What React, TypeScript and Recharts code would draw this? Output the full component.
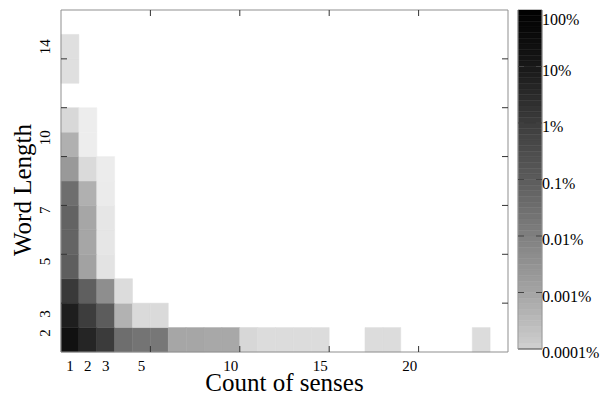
import React from 'react';
import { ComposedChart, XAxis, YAxis, ReferenceArea, Scatter } from 'recharts';

const FONT = '"Liberation Serif", "Times New Roman", serif';

// Word lengths (rows, bottom to top) and sense counts (columns 1..25)
const wordLengths = [2, 3, 4, 5, 6, 7, 8, 9, 10, 11, 12, 13, 14, 15];
const senseCountMax = 25;

// Share of words (%) per count of senses, index 0 = 1 sense; null = no words
const len2 = [19.5, 4.4, 1.1, 0.032, 0.022, 0.018, 0.0009, 0.0009, 0.0008, 0.0008, 0.00007, 0.000053, 0.000053, 0.000053, 0.000053, null, null, 0.000053, 0.000053, null, null, null, null, 0.000053];
const len3 = [6.8, 0.93, 0.1, 0.00048, 0.000059, 0.000059];
const len4 = [1.2, 0.083, 0.0041, 0.000053];
const len5 = [0.088, 0.00114, 0.000035];
const len6 = [0.06, 0.0009, 0.00003];
const len7 = [0.064, 0.0009, 0.00003];
const len8 = [0.032, 0.00053, 0.000023];
const len9 = [0.002, 0.000059, 0.000022];
const len10 = [0.00053, 0.00002];
const len11 = [0.000066, 0.00002];
const len12: (number | null)[] = [];
const len13 = [0.000043];
const len14 = [0.000043];
const len15: (number | null)[] = [];

const rowsByLength: (number | null)[][] = [len2, len3, len4, len5, len6, len7, len8, len9, len10, len11, len12, len13, len14, len15];

// Axis ticks
const xLabelPos = [0.5, 1.5, 2.5, 4.5, 9.5, 14.5, 19.5];
const xLabels = ['1', '2', '3', '5', '10', '15', '20'];
const xTickMarks = [5, 10, 15, 20];
const yLabelPos = [0.78, 1.56, 3.7, 5.8, 8.77, 12.5];
const yLabels = ['2', '3', '5', '7', '10', '14'];
const yTickMarks = [2, 4, 6, 8, 10, 12];

// Colorbar ticks
const cbTicks = [0.0001, 0.001, 0.01, 0.1, 1, 10, 100];
const cbLabels = ['0.0001%', '0.001%', '0.01%', '0.1%', '1%', '10%', '100%'];

// gray colormap: log10(percent) -> gray level
const grayStops: [number, number][] = [[-5, 250], [-4, 208], [-3, 164], [-2, 128], [-1, 92], [0, 60], [1, 24], [2, 0]];
function grayFor(p: number): string {
  const l = Math.log10(p);
  let g = grayStops[0][1];
  if (l >= grayStops[grayStops.length - 1][0]) g = 0;
  else if (l > grayStops[0][0]) {
    for (let i = 0; i < grayStops.length - 1; i++) {
      const [a, ga] = grayStops[i];
      const [b, gb] = grayStops[i + 1];
      if (l >= a && l <= b) { g = ga + (gb - ga) * (l - a) / (b - a); break; }
    }
  }
  const v = Math.max(0, Math.min(255, Math.round(g)));
  return `rgb(${v},${v},${v})`;
}

type CellT = { x1: number; x2: number; y1: number; y2: number; cx: number; cy: number; fill: string; key: string };
const cells: CellT[] = [];
rowsByLength.forEach((row, ri) => {
  const L = wordLengths[ri];
  row.forEach((v, ci) => {
    if (v == null) return;
    cells.push({ x1: ci, x2: ci + 1, y1: L - 2, y2: L - 1, cx: ci + 0.5, cy: L - 1.5, fill: grayFor(v), key: `${L}-${ci}` });
  });
});

const cbBands: { y1: number; y2: number; fill: string }[] = [];
for (let i = 0; i < 60; i++) {
  const a = -4 + i * 0.1;
  const b = a + 0.1;
  cbBands.push({ y1: Math.pow(10, a), y2: Math.pow(10, b), fill: grayFor(Math.pow(10, (a + b) / 2)) });
}
const cbData = [{ bx: 0.5, by: 1 }];

const TICK = '#333';
const FRAME = '#8f8f8f';

const BottomTick = (props: any) => {
  const { x, y, payload } = props;
  const i = xLabelPos.indexOf(payload.value);
  if (i >= 0) {
    return <text x={x} y={y + 19} textAnchor="middle" fontSize={15} fontFamily={FONT} fill="#000">{xLabels[i]}</text>;
  }
  return <line x1={x} x2={x} y1={y} y2={y - 6} stroke={TICK} strokeWidth={1} />;
};
const TopTick = (props: any) => {
  const { x, y } = props;
  return <line x1={x} x2={x} y1={y} y2={y + 6} stroke={TICK} strokeWidth={1} />;
};
const LeftTick = (props: any) => {
  const { x, y, payload } = props;
  const i = yLabelPos.indexOf(payload.value);
  if (i >= 0) {
    return (
      <text x={x - 11} y={y} transform={`rotate(-90, ${x - 11}, ${y})`} textAnchor="middle" fontSize={15} fontFamily={FONT} fill="#000">{yLabels[i]}</text>
    );
  }
  return <line x1={x} x2={x + 6} y1={y} y2={y} stroke={TICK} strokeWidth={1} />;
};
const RightTick = (props: any) => {
  const { x, y } = props;
  return <line x1={x} x2={x - 6} y1={y} y2={y} stroke={TICK} strokeWidth={1} />;
};
const CbTick = (props: any) => {
  const { x, y, payload } = props;
  const i = cbTicks.indexOf(payload.value);
  const isEnd = i === 0 || i === cbTicks.length - 1;
  const dy = i === cbTicks.length - 1 ? 15 : 9;
  return (
    <g>
      {!isEnd && <line x1={x - 24} x2={x - 18} y1={y} y2={y} stroke="#444" strokeWidth={1} />}
      {!isEnd && <line x1={x - 6} x2={x} y1={y} y2={y} stroke="#444" strokeWidth={1} />}
      <text x={x} y={y + dy} textAnchor="start" fontSize={16} fontFamily={FONT} fill="#000">{cbLabels[i]}</text>
    </g>
  );
};

const XTitle = (p: any) => {
  const vb = p.viewBox || { x: 61, y: 352, width: 447, height: 30 };
  return <text x={vb.x + vb.width / 2} y={vb.y + 39} textAnchor="middle" fontSize={25} fontFamily={FONT} fill="#000">Count of senses</text>;
};
const YTitle = (p: any) => {
  const vb = p.viewBox || { x: 21, y: 10, width: 40, height: 342 };
  const cx = vb.x + 10;
  const cy = vb.y + vb.height / 2 + 9;
  return <text x={cx} y={cy} transform={`rotate(-90, ${cx}, ${cy})`} textAnchor="middle" fontSize={25} fontFamily={FONT} fill="#000">Word Length</text>;
};

const bottomTicks = [...xLabelPos, ...xTickMarks].sort((a, b) => a - b);
const leftTicks = [...yLabelPos, ...yTickMarks].sort((a, b) => a - b);

const NoShape = () => <g />;

export default function App() {
  return (
    <div style={{ position: 'absolute', left: 0, top: 0, width: 602, height: 397, background: '#fff', fontFamily: FONT }}>
      <div style={{ position: 'absolute', left: 0, top: 0 }}>
        <ComposedChart width={602} height={397} data={cells} margin={{ top: 9, right: 93, bottom: 15, left: 21 }}>
          {cells.map((c) => (
            <ReferenceArea key={c.key} x1={c.x1} x2={c.x2} y1={c.y1} y2={c.y2} fill={c.fill} fillOpacity={1} stroke={c.fill} strokeWidth={0.5} ifOverflow="visible" />
          ))}
          <XAxis dataKey="cx" type="number" domain={[0, senseCountMax]} ticks={bottomTicks} interval={0} tick={<BottomTick />} tickLine={false} tickSize={0} tickMargin={0} height={30} axisLine={{ stroke: FRAME }} allowDataOverflow label={XTitle} />
          <XAxis xAxisId="top" dataKey="cx" orientation="top" type="number" domain={[0, senseCountMax]} ticks={xTickMarks} interval={0} tick={<TopTick />} tickLine={false} tickSize={0} tickMargin={0} height={1} axisLine={{ stroke: FRAME }} allowDataOverflow />
          <YAxis dataKey="cy" type="number" domain={[0, wordLengths.length]} ticks={leftTicks} interval={0} tick={<LeftTick />} tickLine={false} tickSize={0} tickMargin={0} width={40} axisLine={{ stroke: FRAME }} allowDataOverflow label={YTitle} />
          <YAxis yAxisId="right" dataKey="cy" orientation="right" type="number" domain={[0, wordLengths.length]} ticks={yTickMarks} interval={0} tick={<RightTick />} tickLine={false} tickSize={0} tickMargin={0} width={1} axisLine={{ stroke: FRAME }} allowDataOverflow />
          <Scatter data={cells} dataKey="cy" shape={NoShape} isAnimationActive={false} />
        </ComposedChart>
      </div>
      <div style={{ position: 'absolute', left: 0, top: 0 }}>
        <ComposedChart width={602} height={397} data={cbData} margin={{ top: 10, right: 0, bottom: 47, left: 517 }}>
          {cbBands.map((b, i) => (
            <ReferenceArea key={i} yAxisId="r" x1={0} x2={1} y1={b.y1} y2={b.y2} fill={b.fill} fillOpacity={1} stroke={b.fill} strokeWidth={0.5} ifOverflow="visible" />
          ))}
          <XAxis dataKey="bx" type="number" domain={[0, 1]} tick={false} tickLine={false} height={1} axisLine={{ stroke: '#444' }} allowDataOverflow />
          <YAxis yAxisId="l" orientation="left" type="number" scale="log" domain={[0.0001, 100]} width={1} ticks={cbTicks} tick={false} tickLine={false} axisLine={{ stroke: '#999' }} allowDataOverflow />
          <YAxis yAxisId="r" dataKey="by" orientation="right" type="number" scale="log" domain={[0.0001, 100]} ticks={cbTicks} interval={0} tick={<CbTick />} tickLine={false} tickSize={0} tickMargin={0} width={60} axisLine={{ stroke: '#999' }} allowDataOverflow />
          <Scatter yAxisId="r" data={cbData} dataKey="by" shape={NoShape} isAnimationActive={false} />
        </ComposedChart>
      </div>
    </div>
  );
}
